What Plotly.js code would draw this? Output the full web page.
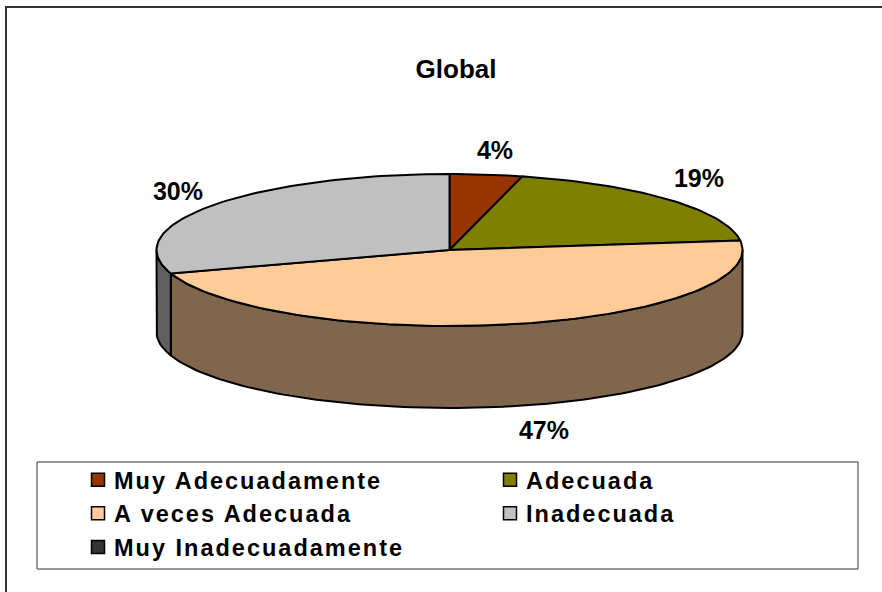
<!DOCTYPE html>
<html>
<head>
<meta charset="utf-8">
<script src="https://cdn.plot.ly/plotly-3.0.1.min.js"></script>
<style>
html,body{margin:0;padding:0;background:#fff}
#chart{width:882px;height:592px}
.legendtext,.legend2text{letter-spacing:2px;transform:translateX(-4px)}
</style>
</head>
<body>
<div id="chart"></div>
<script>
var categories = ["Muy Adecuadamente", "Adecuada", "A veces Adecuada", "Inadecuada", "Muy Inadecuadamente"];
var shares = [4, 19, 47, 30, 0];
var topColors = ["#993300", "#808000", "#FFCC99", "#C0C0C0", "#333333"];
var sideColors = ["#4D1A00", "#404000", "#80664D", "#606060", "#1A1A1A"];
var legendColumn = ["legend", "legend2", "legend", "legend2", "legend"];
var labelPos = [[495, 153], [699, 181], [544, 433], [178, 194]];

var W = 882, H = 592;
var cx = 449.5, cy = 250, rx = 293, ry = 76, depth = 82;
var FONT = "Liberation Sans, Arial, sans-serif";

function pt(deg, dy) {
  var t = deg * Math.PI / 180;
  return [cx + rx * Math.sin(t), cy - ry * Math.cos(t) + (dy || 0)];
}
function arc(a, b, dy) {
  var n = Math.max(2, Math.ceil(Math.abs(b - a) / 1.5)), out = [];
  for (var i = 0; i <= n; i++) out.push(pt(a + (b - a) * i / n, dy));
  return out;
}
function polyTrace(points, fill) {
  return {
    type: "scatter", mode: "lines", showlegend: false, hoverinfo: "skip",
    x: points.map(function (p) { return p[0]; }),
    y: points.map(function (p) { return p[1]; }),
    fill: "toself", fillcolor: fill,
    line: { color: "#000000", width: 2 }
  };
}

var walls = [], tops = [], acc = 0;
shares.forEach(function (s, i) {
  if (s <= 0) return;
  var a = acc * 3.6, b = (acc + s) * 3.6;
  acc += s;
  tops.push(polyTrace([[cx, cy]].concat(arc(a, b)).concat([[cx, cy]]), topColors[i]));
  var wa = Math.max(a, 90), wb = Math.min(b, 270);
  if (wb > wa) {
    walls.push(polyTrace(arc(wa, wb).concat(arc(wb, wa, depth)).concat([pt(wa)]), sideColors[i]));
  }
});
var traces = walls.concat(tops);

categories.forEach(function (c, i) {
  traces.push({
    type: "scatter", mode: "markers", name: c, x: [null], y: [null],
    legend: legendColumn[i], hoverinfo: "skip",
    marker: { symbol: "square", size: 13, color: topColors[i], line: { color: "#000000", width: 1.5 } }
  });
});

traces.push({
  type: "scatter", mode: "text", showlegend: false, hoverinfo: "skip",
  x: labelPos.map(function (p) { return p[0]; }),
  y: labelPos.map(function (p) { return p[1]; }),
  text: shares.slice(0, 4).map(function (s) { return s + "%"; }),
  texttemplate: "<b>%{text}</b>",
  textposition: "middle center",
  textfont: { family: FONT, size: 25, color: "#000000" }
});

function legendOf(px) {
  return {
    orientation: "v", x: px / W, xanchor: "left", y: 1 - 458 / H, yanchor: "top",
    bgcolor: "rgba(0,0,0,0)", borderwidth: 0, traceorder: "normal",
    font: { family: FONT, size: 23.5, color: "#000000", weight: 700 }
  };
}

var layout = {
  width: W, height: H,
  margin: { l: 0, r: 0, t: 0, b: 0 },
  paper_bgcolor: "#ffffff", plot_bgcolor: "#ffffff",
  font: { family: FONT, color: "#000000" },
  title: {
    text: "<b>Global</b>",
    font: { family: FONT, size: 26, color: "#000000" },
    x: 456 / W, xanchor: "center", y: 1 - 69 / H, yanchor: "middle"
  },
  xaxis: { range: [0, W], visible: false, fixedrange: true },
  yaxis: { range: [H, 0], visible: false, fixedrange: true },
  showlegend: true,
  legend: legendOf(78),
  legend2: legendOf(490),
  shapes: [
    { type: "rect", xref: "x", yref: "y", x0: 37, y0: 462, x1: 858, y1: 569, line: { color: "#333333", width: 1 }, layer: "below" },
    { type: "line", xref: "x", yref: "y", x0: 6, y0: 7, x1: 882, y1: 7, line: { color: "#333333", width: 2 }, layer: "below" },
    { type: "line", xref: "x", yref: "y", x0: 6, y0: 6, x1: 6, y1: 592, line: { color: "#333333", width: 2 }, layer: "below" }
  ]
};

Plotly.newPlot("chart", traces, layout, { displayModeBar: false, staticPlot: true });
</script>
</body>
</html>
